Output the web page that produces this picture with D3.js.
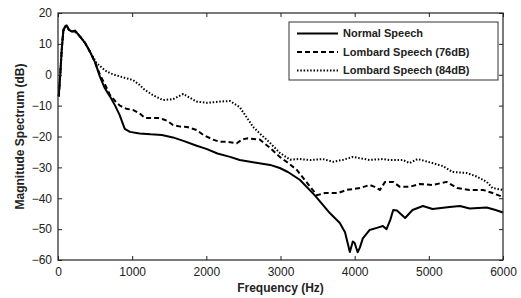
<!DOCTYPE html>
<html>
<head>
<meta charset="utf-8">
<script src="https://cdn.jsdelivr.net/npm/d3@7"></script>
<style>
  body { margin: 0; background: #fff; }
  svg { display: block; }
</style>
</head>
<body>
<div id="wrapper"></div>
<script>
// Data: [frequency (Hz), magnitude (dB)]
const normalSpeech = [[10,-7],[30,0],[50,8],[72,14.5],[100,15.8],[117,16],[150,14.5],[185,14],[230,14.3],[300,12.3],[365,10.3],[430,7.5],[500,4],[566,-0.7],[630,-4.3],[700,-7],[770,-10],[830,-13],[900,-17.5],[970,-18.5],[1100,-19],[1250,-19.3],[1400,-19.5],[1550,-20.3],[1700,-21.5],[1870,-23],[2000,-24],[2150,-25.5],[2320,-26.6],[2450,-27.6],[2650,-28.4],[2860,-29.2],[2990,-30.2],[3100,-31.5],[3260,-34],[3460,-39],[3665,-44.8],[3800,-48],[3870,-51],[3935,-57.4],[3975,-54],[4000,-54.5],[4040,-57.5],[4070,-56],[4110,-53],[4200,-50.3],[4300,-49.6],[4380,-49],[4430,-50],[4480,-47],[4520,-43.8],[4570,-44],[4680,-46.4],[4780,-43.8],[4920,-42.5],[5050,-43.5],[5280,-42.8],[5420,-42.5],[5550,-43.3],[5780,-43],[5900,-43.8],[6000,-44.6]]

const lombard76 = [[10,-7],[30,0],[50,8],[72,14.5],[100,15.5],[117,15.8],[150,14.5],[185,14],[230,14],[300,12.3],[365,10.3],[430,7.5],[500,4],[566,0],[630,-3],[700,-6.5],[770,-8.5],[835,-10],[920,-11],[1010,-11.4],[1100,-12.5],[1170,-14],[1240,-14],[1350,-14],[1415,-14.4],[1480,-15],[1550,-16.3],[1650,-16.8],[1740,-16.9],[1870,-17.9],[1960,-19.5],[2090,-21],[2180,-21.7],[2280,-21.7],[2410,-22.2],[2480,-21],[2550,-20.6],[2720,-21],[2860,-23.7],[2990,-26.6],[3100,-28.5],[3220,-30.8],[3400,-36.3],[3490,-39],[3600,-38.3],[3780,-38.3],[3890,-37.3],[4070,-36.7],[4200,-35.7],[4270,-36.3],[4340,-37.3],[4410,-34.7],[4520,-34.7],[4610,-36.3],[4740,-36.3],[4880,-35.4],[5050,-35.7],[5240,-34.7],[5380,-36.7],[5550,-37.3],[5730,-37.3],[5860,-38.3],[6000,-39.6]]

const lombard84 = [[10,-7],[30,0],[50,8],[72,14],[100,15.5],[130,15],[185,14],[230,14.3],[300,12.3],[365,10.3],[430,7.5],[520,3.8],[630,1.5],[700,0.5],[770,-0.1],[900,-1],[1010,-1.7],[1100,-3.3],[1170,-4.9],[1280,-6.6],[1415,-8.2],[1550,-7.9],[1690,-6.2],[1780,-7.5],[1870,-8.7],[2010,-9.1],[2180,-8.7],[2320,-8.5],[2450,-10.5],[2550,-14],[2630,-16.9],[2720,-19],[2860,-22.1],[2990,-25.3],[3130,-27.5],[3250,-27.3],[3400,-27.6],[3570,-27.3],[3710,-28.2],[3850,-27.5],[3975,-26.6],[4200,-27.6],[4380,-27.3],[4470,-27.6],[4650,-27.6],[4740,-28.6],[4850,-27.3],[5050,-28.6],[5190,-29.6],[5320,-31.5],[5510,-31.8],[5650,-33],[5780,-34.7],[5860,-36.7],[6000,-37.3]]

const seriesNames = ["Normal Speech", "Lombard Speech (76dB)", "Lombard Speech (84dB)"]
const xTicks = [0, 1000, 2000, 3000, 4000, 5000, 6000]
const yTicks = [20, 10, 0, -10, -20, -30, -40, -50, -60]

const series = [
    {name: seriesNames[0], values: normalSpeech, dash: null, width: 2},
    {name: seriesNames[1], values: lombard76, dash: "5,3", width: 2},
    {name: seriesNames[2], values: lombard84, dash: "1.5,1.8", width: 2},
]

// Dimensions
let dimensions = {
    width: 521,
    height: 298,
    margin: {top: 13, right: 18, bottom: 38, left: 58},
}
dimensions.boundedWidth = dimensions.width - dimensions.margin.left - dimensions.margin.right
dimensions.boundedHeight = dimensions.height - dimensions.margin.top - dimensions.margin.bottom

const wrapper = d3.select("#wrapper")
    .append("svg")
    .attr("width", dimensions.width)
    .attr("height", dimensions.height)

const bounds = wrapper.append("g")
    .attr("transform", `translate(${dimensions.margin.left}, ${dimensions.margin.top})`)

// Scales
const xScale = d3.scaleLinear()
    .domain([0, 6000])
    .range([0, dimensions.boundedWidth])

const yScale = d3.scaleLinear()
    .domain([-60, 20])
    .range([dimensions.boundedHeight, 0])

// Lines
const lineGenerator = d3.line()
    .x(d => xScale(d[0]))
    .y(d => yScale(d[1]))
    .curve(d3.curveLinear)

bounds.append("g")
    .selectAll("path")
    .data(series)
    .join("path")
        .attr("d", d => lineGenerator(d.values))
        .attr("fill", "none")
        .attr("stroke", "#000")
        .attr("stroke-width", d => d.width)
        .attr("stroke-dasharray", d => d.dash)
        .attr("stroke-linejoin", "round")

// Axes (ticks point inward, box all round)
const tickFont = "Arial, 'Liberation Sans', sans-serif"

const xAxis = bounds.append("g")
    .attr("transform", `translate(0, ${dimensions.boundedHeight})`)
    .call(d3.axisBottom(xScale).tickValues(xTicks).tickFormat(d3.format("d")).tickSize(-4).tickPadding(7).tickSizeOuter(0))
xAxis.select(".domain").remove()

const xAxisTop = bounds.append("g")
    .call(d3.axisTop(xScale).tickValues(xTicks).tickSize(-4).tickFormat("").tickSizeOuter(0))
xAxisTop.select(".domain").remove()

const yAxis = bounds.append("g")
    .call(d3.axisLeft(yScale).tickValues(yTicks).tickFormat(d3.format("d")).tickSize(-4).tickPadding(6).tickSizeOuter(0))
yAxis.select(".domain").remove()

const yAxisRight = bounds.append("g")
    .attr("transform", `translate(${dimensions.boundedWidth}, 0)`)
    .call(d3.axisRight(yScale).tickValues(yTicks).tickSize(-4).tickFormat("").tickSizeOuter(0))
yAxisRight.select(".domain").remove()

bounds.selectAll(".tick text")
    .attr("font-family", tickFont)
    .attr("font-size", 12)
    .attr("fill", "#222")
bounds.selectAll(".tick line")
    .attr("stroke", "#222")

bounds.append("rect")
    .attr("width", dimensions.boundedWidth)
    .attr("height", dimensions.boundedHeight)
    .attr("fill", "none")
    .attr("stroke", "#222")
    .attr("stroke-width", 1.2)

// Axis labels
wrapper.append("text")
    .attr("x", dimensions.margin.left + dimensions.boundedWidth / 2)
    .attr("y", 292)
    .attr("text-anchor", "middle")
    .attr("font-family", tickFont)
    .attr("font-weight", "bold")
    .attr("font-size", 12)
    .attr("fill", "#222")
    .text("Frequency (Hz)")

wrapper.append("text")
    .attr("transform", `translate(24, ${dimensions.margin.top + dimensions.boundedHeight / 2}) rotate(-90)`)
    .attr("text-anchor", "middle")
    .attr("font-family", tickFont)
    .attr("font-weight", "bold")
    .attr("font-size", 12)
    .attr("fill", "#222")
    .text("Magnitude Spectrum (dB)")

// Legend
const legend = wrapper.append("g")
    .attr("transform", "translate(289, 22)")

legend.append("rect")
    .attr("width", 209)
    .attr("height", 58)
    .attr("fill", "#fff")
    .attr("stroke", "#333")
    .attr("stroke-width", 1)

const legendItems = legend.selectAll("g")
    .data(series)
    .join("g")
        .attr("transform", (d, i) => `translate(0, ${11.5 + i * 18.5})`)

legendItems.append("line")
    .attr("x1", 8)
    .attr("x2", 49)
    .attr("stroke", "#000")
    .attr("stroke-width", d => d.width)
    .attr("stroke-dasharray", d => d.dash)

legendItems.append("text")
    .attr("x", 54)
    .attr("dy", "0.35em")
    .attr("font-family", tickFont)
    .attr("font-weight", "bold")
    .attr("font-size", 11)
    .attr("fill", "#222")
    .text(d => d.name)
</script>
</body>
</html>
